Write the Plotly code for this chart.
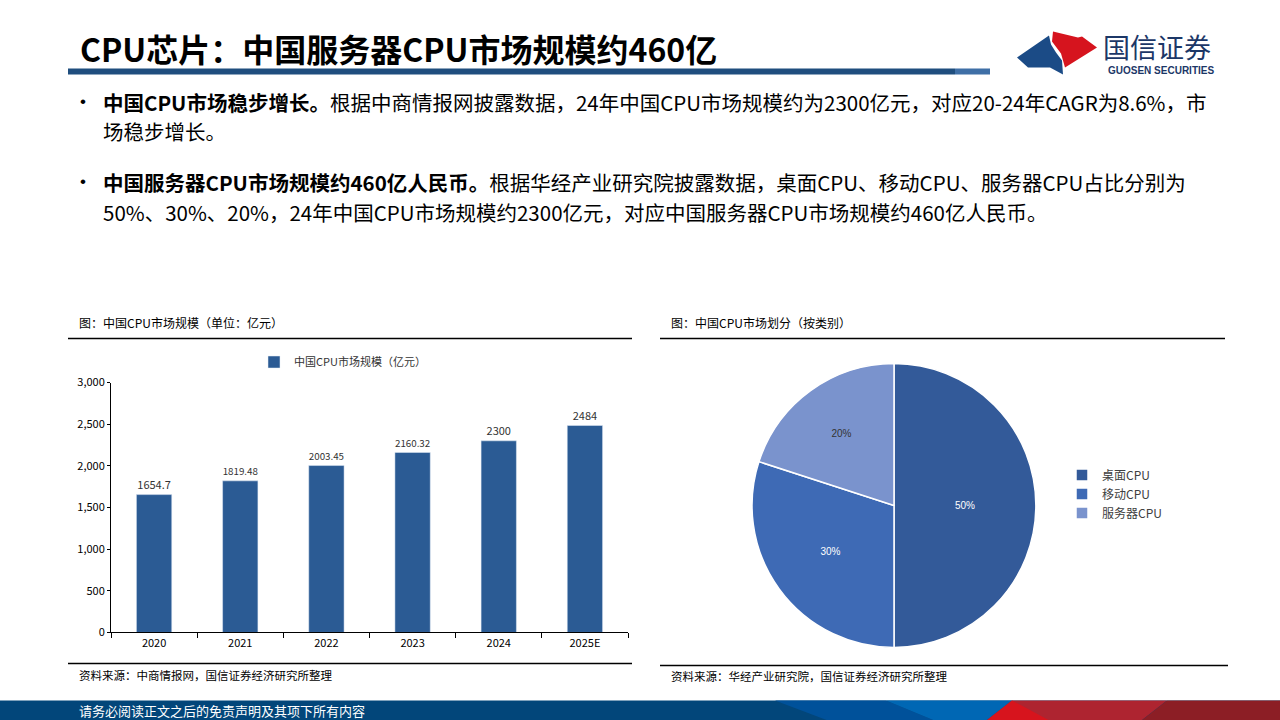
import plotly.graph_objects as go

# ---------------- data ----------------
years = ["2020", "2021", "2022", "2023", "2024", "2025E"]
market_size = [1654.7, 1819.48, 2003.45, 2160.32, 2300, 2484]
bar_series_name = "中国CPU市场规模（亿元）"
y_ticks = [0, 500, 1000, 1500, 2000, 2500, 3000]

pie_labels = ["桌面CPU", "移动CPU", "服务器CPU"]
pie_values = [50, 30, 20]
pie_colors = ["#335A99", "#3E6AB5", "#7A93CD"]
pie_text_colors = ["#FFFFFF", "#FFFFFF", "#333333"]

title_text = "CPU芯片：中国服务器CPU市场规模约460亿"
bullet_lines = [
    "<b>中国CPU市场稳步增长。</b>根据中商情报网披露数据，24年中国CPU市场规模约为2300亿元，对应20-24年CAGR为8.6%，市",
    "场稳步增长。",
    "<b>中国服务器CPU市场规模约460亿人民币。</b>根据华经产业研究院披露数据，桌面CPU、移动CPU、服务器CPU占比分别为",
    "50%、30%、20%，24年中国CPU市场规模约2300亿元，对应中国服务器CPU市场规模约460亿人民币。",
]
left_title = "图：中国CPU市场规模（单位：亿元）"
right_title = "图：中国CPU市场划分（按类别）"
left_source = "资料来源：中商情报网，国信证券经济研究所整理"
right_source = "资料来源：华经产业研究院，国信证券经济研究所整理"
footer_text = "请务必阅读正文之后的免责声明及其项下所有内容"

W, H = 1280, 720
FONT = "Noto Sans CJK SC"

# vertical calibration (observed page mapping)
Y_OFF, Y_SCALE = 8.4, 0.978


def px(x):
    return x / W


def py(y):
    return 1 - (y - Y_OFF) / (Y_SCALE * H)


fig = go.Figure()

# ---------------- bar chart ----------------
fig.add_trace(go.Bar(
    x=years, y=market_size, name=bar_series_name,
    marker=dict(color="#2B5B94"),
    width=0.41,
    text=[f"{v:g}" for v in market_size],
    textposition="outside",
    textfont=dict(family=FONT, size=11, color="#333333"),
    cliponaxis=False,
    xaxis="x", yaxis="y", legend="legend",
))

# ---------------- pie chart ----------------
fig.add_trace(go.Pie(
    labels=pie_labels, values=pie_values,
    marker=dict(colors=pie_colors, line=dict(color="#FFFFFF", width=1.5)),
    sort=False, direction="clockwise", rotation=0,
    textinfo="percent", textposition="inside",
    insidetextorientation="horizontal",
    textfont=dict(family="Liberation Sans", size=10, color=pie_text_colors),
    domain=dict(x=[px(750), px(1038)], y=[py(647), py(363)]),
    legend="legend2",
))

shapes = []
annotations = []


def path(points):
    return "M " + " L ".join(f"{px(x)},{py(y)}" for x, y in points) + " Z"


# header title + bar
annotations.append(dict(text=f"<b>{title_text}</b>", x=px(78), y=py(47), xref="paper", yref="paper",
                        xanchor="left", yanchor="middle", showarrow=False,
                        font=dict(family=FONT, size=32, color="#000000")))
shapes.append(dict(type="rect", xref="paper", yref="paper", x0=px(68), x1=px(955), y0=py(74), y1=py(68),
                   fillcolor="#1F4E7E", line=dict(width=0)))
shapes.append(dict(type="rect", xref="paper", yref="paper", x0=px(955), x1=px(990), y0=py(74), y1=py(68),
                   fillcolor="#3F6FA6", line=dict(width=0)))

# logo
blue_pts = [(1017, 57), (1049, 35), (1051, 44), (1056, 52), (1062, 60), (1063, 74), (1050, 67), (1028, 67)]
red_pts = [(1053, 31), (1078, 37), (1082, 36), (1097, 47), (1065, 67), (1061, 53), (1052, 41)]
shapes.append(dict(type="path", xref="paper", yref="paper", path=path(blue_pts),
                   fillcolor="#1B4B86", line=dict(width=0)))
shapes.append(dict(type="path", xref="paper", yref="paper", path=path(red_pts),
                   fillcolor="#D6141E", line=dict(width=0)))
annotations.append(dict(text="国信证券", x=px(1101), y=py(46), xref="paper", yref="paper",
                        xanchor="left", yanchor="middle", showarrow=False,
                        font=dict(family=FONT, size=27, color="#1C3767")))
annotations.append(dict(text="<b>GUOSEN SECURITIES</b>", x=px(1106), y=py(70), xref="paper", yref="paper",
                        xanchor="left", yanchor="middle", showarrow=False,
                        font=dict(family="Liberation Sans Narrow, Liberation Sans", size=10, color="#1C3767")))

# bullets
bullet_y = [101, 130, 181, 211]
for line, yy in zip(bullet_lines, bullet_y):
    annotations.append(dict(text=line, x=px(101), y=py(yy), xref="paper", yref="paper",
                            xanchor="left", yanchor="middle", showarrow=False,
                            font=dict(family=FONT, size=20.5, color="#000000")))
for yy in (101, 181):
    annotations.append(dict(text="•", x=px(83), y=py(yy), xref="paper", yref="paper",
                            xanchor="center", yanchor="middle", showarrow=False,
                            font=dict(family="Liberation Sans", size=17, color="#000000")))

# chart titles, rules, sources
annotations.append(dict(text=left_title, x=px(77), y=py(322), xref="paper", yref="paper",
                        xanchor="left", yanchor="middle", showarrow=False,
                        font=dict(family=FONT, size=12, color="#000000")))
annotations.append(dict(text=right_title, x=px(669), y=py(322), xref="paper", yref="paper",
                        xanchor="left", yanchor="middle", showarrow=False,
                        font=dict(family=FONT, size=12, color="#000000")))
annotations.append(dict(text=left_source, x=px(77), y=py(675), xref="paper", yref="paper",
                        xanchor="left", yanchor="middle", showarrow=False,
                        font=dict(family=FONT, size=11.5, color="#000000")))
annotations.append(dict(text=right_source, x=px(669), y=py(676), xref="paper", yref="paper",
                        xanchor="left", yanchor="middle", showarrow=False,
                        font=dict(family=FONT, size=11.5, color="#000000")))
for (x0, x1, yy) in [(68, 632, 338), (68, 632, 663), (660, 1225, 338), (660, 1228, 665)]:
    shapes.append(dict(type="line", xref="paper", yref="paper", x0=px(x0), x1=px(x1), y0=py(yy), y1=py(yy),
                       line=dict(color="#000000", width=1.5)))

# footer band
shapes.append(dict(type="rect", xref="paper", yref="paper", x0=0, x1=1, y0=py(722), y1=py(700),
                   fillcolor="#02467A", line=dict(width=0)))
footer_polys = [
    ([(775, 700), (886, 700), (939, 722), (833, 722)], "#00519A"),
    ([(886, 700), (1012, 700), (984, 722), (939, 722)], "#0067B4"),
    ([(1012, 700), (1167, 700), (1139, 722), (984, 722)], "#AE2430"),
    ([(1012, 700), (1053, 722), (984, 722)], "#D7141D"),
    ([(1167, 700), (1280, 700), (1280, 722), (1139, 722)], "#8C1E25"),
]
for pts, col in footer_polys:
    shapes.append(dict(type="path", xref="paper", yref="paper", path=path(pts),
                       fillcolor=col, line=dict(width=0)))
annotations.append(dict(text=footer_text, x=px(77), y=py(710), xref="paper", yref="paper",
                        xanchor="left", yanchor="middle", showarrow=False,
                        font=dict(family=FONT, size=13, color="#FFFFFF")))

fig.update_layout(
    width=W, height=H,
    margin=dict(l=0, r=0, t=0, b=0),
    paper_bgcolor="#FFFFFF", plot_bgcolor="#FFFFFF",
    font=dict(family=FONT, size=11, color="#333333"),
    showlegend=True,
    xaxis=dict(domain=[px(111), px(628)], type="category",
               showline=True, linecolor="#000000", linewidth=1,
               ticks="outside", ticklen=5, tickcolor="#000000", tickson="boundaries",
               showgrid=False, tickfont=dict(family=FONT, size=11, color="#000000"),
               anchor="y"),
    yaxis=dict(domain=[py(632), py(382)], range=[0, 3000], tickvals=y_ticks, tickformat=",",
               showline=True, linecolor="#000000", linewidth=1,
               ticks="outside", ticklen=3, tickcolor="#000000",
               showgrid=False, zeroline=False, tickfont=dict(family=FONT, size=11, color="#000000"),
               anchor="x"),
    legend=dict(x=px(254), y=py(347), xanchor="left", yanchor="top", orientation="h",
                font=dict(family=FONT, size=11, color="#333333"), bgcolor="rgba(0,0,0,0)"),
    legend2=dict(x=px(1062), y=py(460), xanchor="left", yanchor="top", orientation="v",
                 font=dict(family=FONT, size=12, color="#404040"), bgcolor="rgba(0,0,0,0)"),
    shapes=shapes,
    annotations=annotations,
    bargap=0.59,
)

post = (
    "document.documentElement.style.margin='0';"
    "document.body.style.margin='0';"
    "document.documentElement.style.overflow='hidden';"
    "var d=document.getElementById('{plot_id}');"
    "d.style.position='fixed';d.style.top='0px';d.style.left='0px';"
)
fig.write_html("out.html", config={"displayModeBar": False}, post_script=post)
